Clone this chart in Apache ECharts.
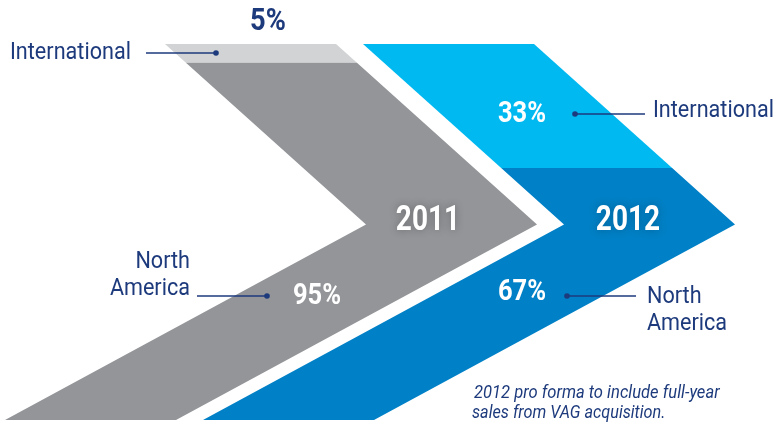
<!DOCTYPE html>
<html>
<head>
<meta charset="utf-8">
<script src="https://cdn.jsdelivr.net/npm/echarts@6/dist/echarts.min.js"></script>
<style>
  html, body { margin: 0; padding: 0; background: #ffffff; }
  #chart { width: 775px; height: 427px; }
</style>
</head>
<body>
<div id="chart"></div>
<script>
// Sales mix by region, per year (percent of total sales)
const years = ['2011', '2012'];
const categories = ['International', 'North America'];
const international = [5, 33];
const northAmerica = [95, 67];

// Band colours: [year][category]
const bandColors = [
  ['#d1d3d4', '#939598'],
  ['#00b9f1', '#0080c6']
];

const NAVY = '#1d3a7c';
const FONT = 'Roboto, "Noto Sans", sans-serif';

// Chevron outline, in x-axis units and percent-of-height on the y axis
const chevron = {
  topX: [165, 363],   // left edge at the top of each chevron
  notchShift: 201,    // how far the left edge moves right at the tip
  bottomShift: -160,  // left edge offset at the bottom
  tipPct: 48,         // height of the tip (percent from the top)
  width: 171          // horizontal thickness of the band
};

function leftEdge(yearIdx, pct) {
  const x0 = chevron.topX[yearIdx];
  const t = chevron.tipPct;
  if (pct <= t) return x0 + chevron.notchShift * pct / t;
  return x0 + chevron.notchShift + (chevron.bottomShift - chevron.notchShift) * (pct - t) / (100 - t);
}

// One item per stacked band: [yearIndex, startPct, endPct, categoryIndex]
const bands = [];
years.forEach(function (y, i) {
  bands.push([i, 0, international[i], 0]);
  bands.push([i, international[i], international[i] + northAmerica[i], 1]);
});

function renderBand(params, api) {
  const yi = api.value(0), start = api.value(1), end = api.value(2), ci = api.value(3);
  const stops = [start];
  if (start < chevron.tipPct && end > chevron.tipPct) stops.push(chevron.tipPct);
  stops.push(end);
  const pts = [];
  stops.forEach(function (p) { pts.push(api.coord([leftEdge(yi, p), p])); });
  stops.slice().reverse().forEach(function (p) {
    pts.push(api.coord([leftEdge(yi, p) + chevron.width, p]));
  });
  return {
    type: 'polygon',
    shape: { points: pts },
    style: { fill: bandColors[yi][ci] }
  };
}

// Condensed-looking text: the face is narrowed horizontally around its anchor
function text(x, y, str, opts, sx) {
  return {
    type: 'text', x: x, y: y, z: 100, silent: true,
    scaleX: sx || 0.88,
    style: Object.assign({
      text: str, font: 'bold 29px ' + FONT, fill: '#ffffff',
      align: 'center', verticalAlign: 'middle'
    }, opts || {})
  };
}

function leader(x1, x2, y, dotX) {
  return [
    { type: 'line', z: 100, silent: true, shape: { x1: x1, y1: y, x2: x2, y2: y },
      style: { stroke: NAVY, lineWidth: 1.6 } },
    { type: 'circle', z: 100, silent: true, shape: { cx: dotX, cy: y, r: 2.8 },
      style: { fill: NAVY } }
  ];
}

const REG = '24px ' + FONT;
const NOTE = 'italic 18px ' + FONT;
const graphics = [].concat(
  // value labels
  [text(268, 22, international[0] + '%', { fill: NAVY, font: 'bold 31px ' + FONT })],
  [text(317, 297, northAmerica[0] + '%')],
  [text(522, 115, international[1] + '%')],
  [text(522, 293, northAmerica[1] + '%')],
  // year labels
  [text(428, 221, years[0], { font: 'bold 35px ' + FONT, textShadowColor: 'rgba(0,0,0,0.3)', textShadowBlur: 8 }, 0.8)],
  [text(628, 221, years[1], { font: 'bold 35px ' + FONT, textShadowColor: 'rgba(0,0,0,0.25)', textShadowBlur: 8 }, 0.8)],
  // category callouts
  [text(10, 53, categories[0], { fill: NAVY, font: REG, align: 'left' }, 0.9)],
  leader(146, 216, 53, 216),
  [text(653, 111, categories[0], { fill: NAVY, font: REG, align: 'left' }, 0.9)],
  leader(575, 645, 114, 575),
  [text(190, 262, 'North', { fill: NAVY, font: REG, align: 'right' }, 0.9)],
  [text(190, 289, 'America', { fill: NAVY, font: REG, align: 'right' }, 0.9)],
  leader(197, 267, 296, 267),
  [text(647, 297, 'North', { fill: NAVY, font: REG, align: 'left' }, 0.9)],
  [text(647, 324, 'America', { fill: NAVY, font: REG, align: 'left' }, 0.9)],
  leader(567, 636, 296, 567),
  // footnote
  [text(474, 393, '2012 pro forma to include full-year', { fill: NAVY, font: NOTE, align: 'left' }, 0.92)],
  [text(472, 413, 'sales from VAG acquisition.', { fill: NAVY, font: NOTE, align: 'left' }, 0.9)]
);

const chart = echarts.init(document.getElementById('chart'), null, { renderer: 'canvas' });
chart.setOption({
  animation: false,
  backgroundColor: '#ffffff',
  grid: { left: 0, right: 0, top: 44, bottom: 7 },
  xAxis: { type: 'value', min: 0, max: 775, show: false },
  yAxis: { type: 'value', min: 0, max: 100, inverse: true, show: false },
  series: [{
    type: 'custom',
    renderItem: renderBand,
    data: bands,
    silent: true
  }],
  graphic: graphics
});
</script>
</body>
</html>
